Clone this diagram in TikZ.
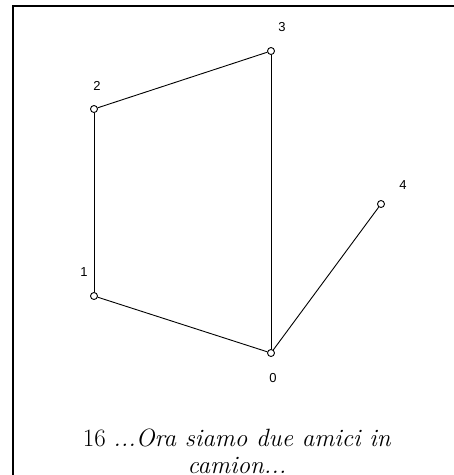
\documentclass[tikz,border=0pt]{standalone}
\usepackage{fontspec}
\newfontfamily\numfont{Liberation Sans}
\usetikzlibrary{positioning}
\tikzset{
  vtx/.style={circle, draw, fill=white, inner sep=0pt, minimum size=7pt, line width=0.9pt},
  edge/.style={line width=0.9pt},
  num/.style={font=\numfont\fontsize{13}{15}\selectfont},
  frame/.style={line width=2pt},
  caption/.style={align=center, inner sep=1pt, font=\fontsize{25}{27}\selectfont},
}
\begin{document}
\begin{tikzpicture}[x=1pt,y=-1pt]
\useasboundingbox (0,0) rectangle (454,475);
% ---------------- frame
\coordinate (ftl) at (13,6);
\coordinate (fbl) at (13,476);
\coordinate (ftr) at (455,6);
\draw[frame] (fbl) -- (ftl) -- (ftr);
% ---------------- vertices
\node[vtx] (v0) at (271,353) {};
\node[vtx] (v1) at (94,296) {};
\node[vtx] (v2) at (94,109) {};
\node[vtx] (v3) at (271,51) {};
\node[vtx] (v4) at (381,204) {};
\node[num] (l0) at (273,378) {0};
\node[num] (l1) at (84,272) {1};
\node[num] (l2) at (97,86) {2};
\node[num] (l3) at (282,27) {3};
\node[num] (l4) at (403,185) {4};
% ---------------- edges
\draw[edge] (v2) -- (v3);
\draw[edge] (v2) -- (v1);
\draw[edge] (v1) -- (v0);
\draw[edge] (v3) -- (v0);
\draw[edge] (v0) -- (v4);
% ---------------- caption
\node[caption] (cap) at (237,451) {16 \textit{...Ora siamo due amici in}\\\textit{camion...}};
\end{tikzpicture}
\end{document}
